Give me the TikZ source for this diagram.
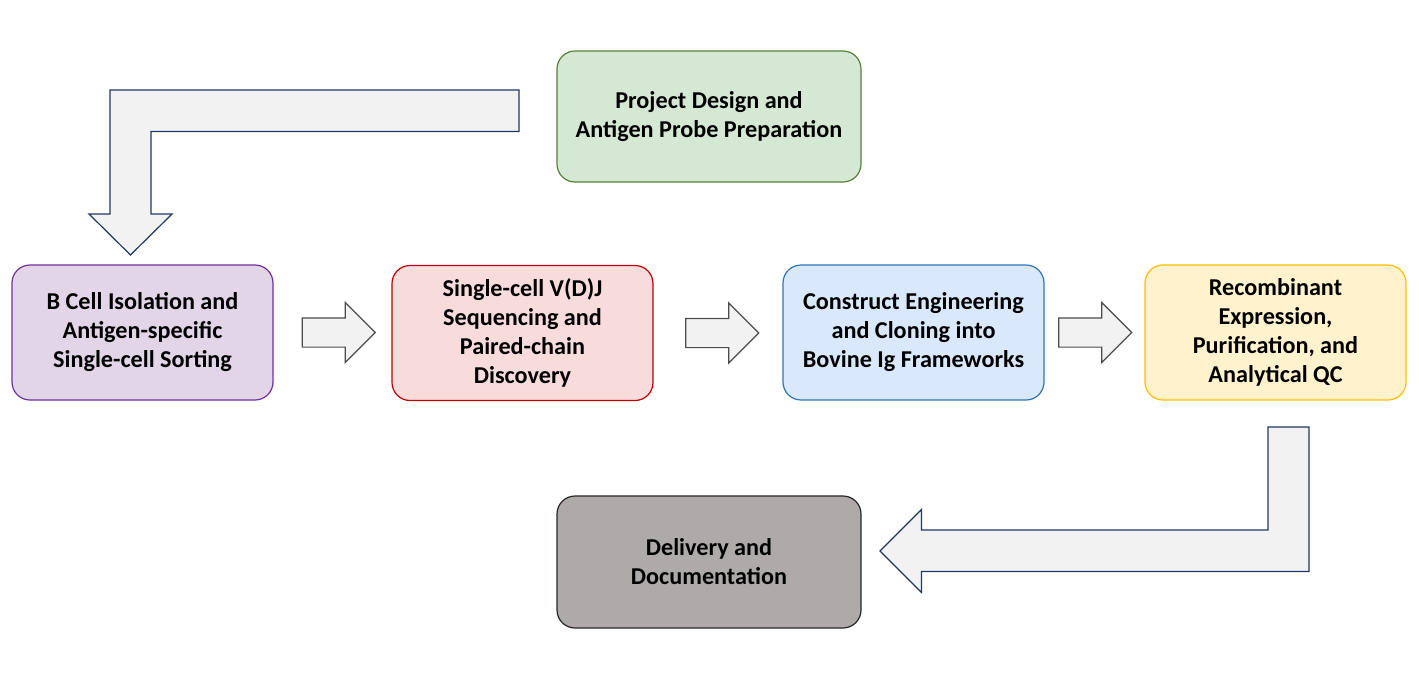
\documentclass[tikz,border=0pt]{standalone}
\usepackage{fontspec}
\setmainfont{Carlito}
\usetikzlibrary{shapes.arrows}

\definecolor{greenfill}{HTML}{D5E8D4}
\definecolor{greenline}{HTML}{548235}
\definecolor{purplefill}{HTML}{E1D5E7}
\definecolor{purpleline}{HTML}{7030A0}
\definecolor{redfill}{HTML}{F8DCDC}
\definecolor{redline}{HTML}{C00000}
\definecolor{bluefill}{HTML}{DAE8FC}
\definecolor{blueline}{HTML}{2E75B6}
\definecolor{yellowfill}{HTML}{FFF2CC}
\definecolor{yellowline}{HTML}{FFC000}
\definecolor{grayfill}{HTML}{AEAAAA}
\definecolor{grayline}{HTML}{262626}
\definecolor{arrowfill}{HTML}{F2F2F2}
\definecolor{arrowline}{HTML}{1F3864}

\begin{document}
\begin{tikzpicture}[x=0.5pt,y=-0.5pt,
    stage/.style={draw,rounded corners=9pt,line width=0.6pt,align=center,
      minimum width=130.5pt,minimum height=67.5pt,
      font=\bfseries\fontsize{12.1}{14.5}\selectfont},
    flow/.style={single arrow,draw=black!70,fill=arrowfill,line width=0.6pt,
      minimum height=36.5pt,inner xsep=0pt,inner ysep=7pt,
      single arrow head extend=7.75pt},
    bentarrow/.style={draw=arrowline,fill=arrowfill,line width=0.6pt}]
        \useasboundingbox (0,0) rectangle (1419,675);
        \node[stage,fill=greenfill,draw=greenline,minimum width=152pt,minimum height=65.5pt] (design) at (709,116.5) {Project Design and\\Antigen Probe Preparation};
        \node[stage,fill=purplefill,draw=purpleline] (sorting) at (142.5,332.5) {B Cell Isolation and\\Antigen-specific\\Single-cell Sorting};
        \node[stage,fill=redfill,draw=redline] (vdj) at (522.5,333) {Single-cell V(D)J\\Sequencing and\\Paired-chain\\Discovery};
        \node[stage,fill=bluefill,draw=blueline] (cloning) at (913.5,332.5) {Construct Engineering\\and Cloning into\\Bovine Ig Frameworks};
        \node[stage,fill=yellowfill,draw=yellowline] (expression) at (1275.5,332.5) {Recombinant\\Expression,\\Purification, and\\Analytical QC};
        \node[stage,fill=grayfill,draw=grayline,minimum width=152pt,minimum height=66pt] (delivery) at (709,562) {Delivery and\\Documentation};
        \node[flow] (a1) at (331.5,332.5) {};
        \node[flow] (a2) at (715,333) {};
        \node[flow] (a3) at (1088,332.5) {};
        \draw[bentarrow] (519,90) -- (110,90) -- (110,214) -- (89,214) -- (130.5,255)
          -- (172,214) -- (151,214) -- (151,131.5) -- (519,131.5) -- cycle;
        \draw[bentarrow] (1268,427) -- (1309,427) -- (1309,571.5) -- (921.5,571.5) -- (921.5,592.5)
          -- (880,551) -- (921.5,509.5) -- (921.5,530) -- (1268,530) -- cycle;
\end{tikzpicture}
\end{document}
